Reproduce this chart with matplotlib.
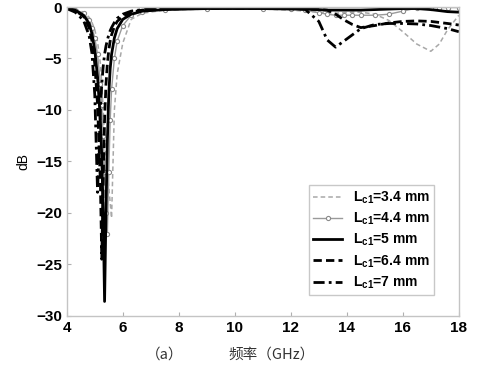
import matplotlib
matplotlib.use("Agg")
import matplotlib.pyplot as plt

# frequency grid (GHz)
freq = [4.0, 4.3, 4.6, 4.8, 4.9, 5.0, 5.1, 5.2, 5.25, 5.3,
        5.35, 5.4, 5.45, 5.5, 5.55, 5.6, 5.7, 5.8, 6.0, 6.3,
        6.7, 7.5, 9.0, 11.0, 12.0, 12.5, 13.0, 13.3, 13.6, 13.9,
        14.2, 14.5, 15.0, 15.5, 16.0, 16.5, 17.0, 17.3, 17.6, 18.0]

# S11 in dB for each Lc1
db_34 = [-0.1, -0.2, -0.5, -1.0, -1.5, -2.2, -3.4, -5.5, -7.5, -10.0,
         -12.5, -14.5, -16.0, -17.5, -19.0, -20.5, -10.0, -6.5, -3.5, -1.2,
         -0.6, -0.3, -0.2, -0.2, -0.3, -0.4, -0.5, -0.55, -0.6, -0.55,
         -0.5, -0.5, -0.7, -1.3, -2.4, -3.6, -4.3, -3.6, -2.2, -0.8]
db_44 = [-0.1, -0.25, -0.6, -1.3, -2.0, -3.0, -4.6, -7.5, -9.5, -12.5,
         -16.0, -20.0, -22.0, -16.0, -11.0, -8.0, -5.0, -3.3, -1.8, -0.8,
         -0.45, -0.25, -0.15, -0.15, -0.2, -0.3, -0.55, -0.7, -0.8, -0.8,
         -0.8, -0.8, -0.8, -0.7, -0.4, -0.1, -0.05, -0.05, -0.05, -0.05]
db_5 = [-0.1, -0.3, -0.8, -1.6, -2.6, -4.2, -6.8, -11.0, -14.5, -20.0,
        -28.6, -20.0, -13.0, -8.5, -6.0, -4.6, -3.0, -2.1, -1.2, -0.7,
        -0.4, -0.25, -0.15, -0.15, -0.2, -0.2, -0.25, -0.3, -0.3, -0.3,
        -0.3, -0.3, -0.25, -0.2, -0.15, -0.15, -0.25, -0.35, -0.45, -0.5]
db_64 = [-0.1, -0.35, -0.9, -2.0, -3.3, -5.5, -9.5, -17.0, -24.5, -17.0,
         -11.0, -7.5, -5.5, -4.2, -3.3, -2.7, -1.9, -1.4, -0.9, -0.5,
         -0.3, -0.2, -0.1, -0.1, -0.15, -0.2, -0.25, -0.3, -0.7, -1.25,
         -1.7, -2.0, -1.8, -1.55, -1.4, -1.35, -1.4, -1.5, -1.6, -1.75]
db_7 = [-0.15, -0.5, -1.3, -2.8, -4.5, -8.5, -18.0, -10.0, -7.5, -5.8,
        -4.6, -3.8, -3.2, -2.7, -2.3, -2.0, -1.5, -1.1, -0.7, -0.4,
        -0.25, -0.15, -0.1, -0.1, -0.15, -0.2, -1.4, -3.2, -3.9, -3.3,
        -2.7, -2.1, -1.7, -1.6, -1.6, -1.65, -1.8, -1.95, -2.1, -2.4]

labels = ["L$_{c1}$=3.4 mm", "L$_{c1}$=4.4 mm",
          "L$_{c1}$=5 mm", "L$_{c1}$=6.4 mm",
          "L$_{c1}$=7 mm"]
xticks = [4, 6, 8, 10, 12, 14, 16, 18]
yticks = [0, -5, -10, -15, -20, -25, -30]

plt.rcParams["font.family"] = ["Liberation Sans", "Noto Sans CJK SC"]
plt.rcParams["font.weight"] = "bold"
plt.rcParams["mathtext.fontset"] = "custom"
plt.rcParams["mathtext.rm"] = "Liberation Sans:bold"
plt.rcParams["mathtext.it"] = "Liberation Sans:bold"
plt.rcParams["mathtext.bf"] = "Liberation Sans:bold"

fig = plt.figure(figsize=(5.02, 3.69), dpi=100)
ax = fig.add_axes([0.133, 0.144, 0.781, 0.837])

ax.plot(freq, db_34, color="#a8a8a8", ls=(0, (3, 2)), lw=1.1, label=labels[0])
ax.plot(freq, db_44, color="#9a9a9a", lw=1.0, marker="o", ms=3,
        mfc="white", mec="#8a8a8a", mew=0.8, label=labels[1])
ax.plot(freq, db_5, color="black", lw=2.0, label=labels[2])
ax.plot(freq, db_64, color="black", ls=(0, (3, 1.5)), lw=2.0, label=labels[3])
ax.plot(freq, db_7, color="black", ls=(0, (4, 1.5, 1, 1.5)), lw=2.0, label=labels[4])

ax.set_xlim(4, 18)
ax.set_ylim(-30, 0)
ax.set_xticks(xticks)
ax.set_yticks(yticks)
ax.tick_params(direction="in", length=3, color="#b0b0b0", labelsize=11)
for s in ax.spines.values():
    s.set_color("#c4c4c4")
    s.set_linewidth(1.0)

ax.set_ylabel("dB", fontsize=10, fontweight="normal", labelpad=4)

leg = ax.legend(loc="lower left", bbox_to_anchor=(0.6, 0.045), fontsize=10,
                handlelength=2.1, labelspacing=0.35, borderpad=0.3,
                fancybox=False, framealpha=1, edgecolor="#c8c8c8")

fig.text(0.327, 0.038, "（a）", fontsize=10.5, ha="center", va="center",
         family=["Noto Sans CJK SC"], fontweight="normal", color="#333333")
fig.text(0.54, 0.038, "频率（GHz）", fontsize=10.5, ha="center", va="center",
         family=["Noto Sans CJK SC"], fontweight="normal", color="#333333")

fig.savefig("out.png", dpi=100)
